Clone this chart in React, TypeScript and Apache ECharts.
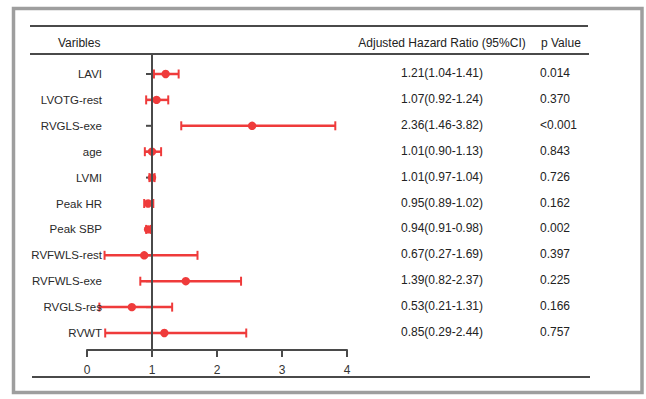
import React, { useEffect, useRef } from "react";
import * as echarts from "echarts";

const variables = ["LAVI", "LVOTG-rest", "RVGLS-exe", "age", "LVMI", "Peak HR", "Peak SBP", "RVFWLS-rest", "RVFWLS-exe", "RVGLS-res", "RVWT"];
const plotPoint = [1.21, 1.07, 2.54, 1.0, 1.0, 0.94, 0.94, 0.88, 1.52, 0.69, 1.19];
const plotLow = [1.03, 0.91, 1.45, 0.89, 0.96, 0.88, 0.91, 0.27, 0.82, 0.19, 0.28];
const plotHigh = [1.41, 1.25, 3.82, 1.14, 1.04, 1.02, 0.98, 1.7, 2.37, 1.31, 2.45];
const hrText = ["1.21(1.04-1.41)", "1.07(0.92-1.24)", "2.36(1.46-3.82)", "1.01(0.90-1.13)", "1.01(0.97-1.04)", "0.95(0.89-1.02)", "0.94(0.91-0.98)", "0.67(0.27-1.69)", "1.39(0.82-2.37)", "0.53(0.21-1.31)", "0.85(0.29-2.44)"];
const pText = ["0.014", "0.370", "<0.001", "0.843", "0.726", "0.162", "0.002", "0.397", "0.225", "0.166", "0.757"];
const xTicks = [0, 1, 2, 3, 4];
const headers = { variable: "Varibles", hr: "Adjusted Hazard Ratio (95%CI)", p: "p Value" };

const RED = "#ef3b3b";
const DARK = "#4a4a4a";
const FONT = "Liberation Sans, Arial, sans-serif";

export default function App() {
  const ref = useRef<HTMLDivElement>(null);
  useEffect(() => {
    if (!ref.current) return;
    const chart = echarts.init(ref.current, null, { renderer: "svg" });
    const data = variables.map((n, i) => [plotPoint[i], i, plotLow[i], plotHigh[i]]);
    chart.setOption({
      animation: false,
      backgroundColor: "#ffffff",
      grid: { left: 87, right: 299, top: 54, bottom: 49, containLabel: false },
      xAxis: {
        type: "value",
        min: xTicks[0],
        max: xTicks[xTicks.length - 1],
        interval: 1,
        splitLine: { show: false },
        axisLine: { show: true, onZero: false, lineStyle: { color: DARK, width: 2 } },
        axisTick: { show: true, inside: false, length: 7, lineStyle: { color: DARK, width: 2 } },
        axisLabel: { margin: 14, color: "#333", fontSize: 12, fontFamily: FONT },
      },
      yAxis: {
        type: "value",
        min: -0.772,
        max: 10.656,
        inverse: true,
        show: false,
      },
      series: [
        {
          type: "custom",
          data,
          renderItem: (params: any, api: any) => {
            const idx = api.value(1);
            const pt = api.coord([api.value(0), idx]);
            const lo = api.coord([api.value(2), idx]);
            const hi = api.coord([api.value(3), idx]);
            const one = api.coord([1, idx]);
            const y = pt[1];
            const i = params.dataIndex;
            return {
              type: "group",
              children: [
                { type: "line", shape: { x1: one[0] - 6, y1: y, x2: one[0], y2: y }, style: { stroke: DARK, lineWidth: 2 } },
                { type: "line", shape: { x1: lo[0], y1: y, x2: hi[0], y2: y }, style: { stroke: RED, lineWidth: 2.5 } },
                { type: "line", shape: { x1: lo[0], y1: y - 4.5, x2: lo[0], y2: y + 4.5 }, style: { stroke: RED, lineWidth: 2 } },
                { type: "line", shape: { x1: hi[0], y1: y - 4.5, x2: hi[0], y2: y + 4.5 }, style: { stroke: RED, lineWidth: 2 } },
                { type: "circle", shape: { cx: pt[0], cy: y, r: 4.2 }, style: { fill: RED } },
                { type: "text", x: 102, y, style: { text: variables[i], align: "right", verticalAlign: "middle", fill: "#2a2a2a", fontSize: 11.5, fontFamily: FONT } },
                { type: "text", x: 442, y: y - 1, style: { text: hrText[i], align: "center", verticalAlign: "middle", fill: "#222", fontSize: 12, fontFamily: FONT } },
                { type: "text", x: 540, y: y - 1, style: { text: pText[i], align: "left", verticalAlign: "middle", fill: "#222", fontSize: 12, fontFamily: FONT } },
              ],
            };
          },
          markLine: {
            silent: true,
            symbol: "none",
            label: { show: false },
            lineStyle: { color: DARK, width: 2, type: "solid" },
            data: [{ xAxis: 1 }],
          },
          z: 3,
        },
      ],
      graphic: [
        { type: "rect", shape: { x: 13.5, y: 8.5, width: 628.5, height: 384 }, style: { fill: "none", stroke: "#9e9e9e", lineWidth: 3.5 }, z: 1 },
        { type: "line", shape: { x1: 30, y1: 26, x2: 588, y2: 26 }, style: { stroke: DARK, lineWidth: 2 } },
        { type: "line", shape: { x1: 30, y1: 54, x2: 589, y2: 54 }, style: { stroke: DARK, lineWidth: 2 } },
        { type: "line", shape: { x1: 32, y1: 377, x2: 590, y2: 377 }, style: { stroke: DARK, lineWidth: 2 } },
        { type: "text", x: 58, y: 43, style: { text: headers.variable, align: "left", verticalAlign: "middle", fill: "#222", fontSize: 12, fontFamily: FONT } },
        { type: "text", x: 442, y: 43, style: { text: headers.hr, align: "center", verticalAlign: "middle", fill: "#222", fontSize: 12, fontFamily: FONT } },
        { type: "text", x: 541, y: 43, style: { text: headers.p, align: "left", verticalAlign: "middle", fill: "#222", fontSize: 12, fontFamily: FONT } },
      ],
    });
    return () => chart.dispose();
  }, []);
  return <div ref={ref} style={{ position: "absolute", left: 0, top: 0, width: 646, height: 399 }} />;
}
